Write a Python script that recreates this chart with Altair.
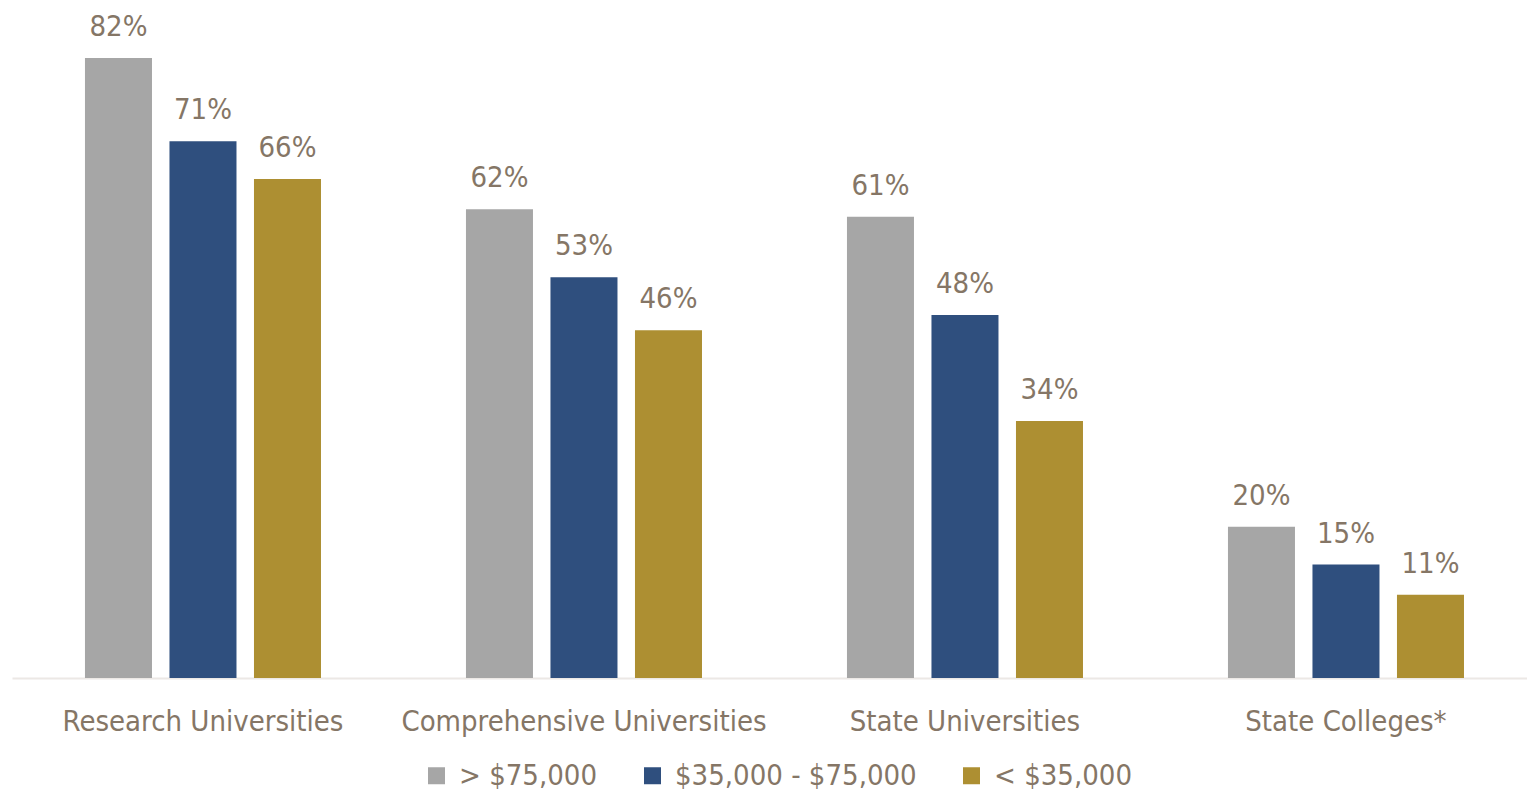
import altair as alt
import pandas as pd

categories = ["Research Universities", "Comprehensive Universities", "State Universities", "State Colleges*"]
incomes = ["> $75,000", "$35,000 - $75,000", "< $35,000"]
high_income = [82, 62, 61, 20]
mid_income = [71, 53, 48, 15]
low_income = [66, 46, 34, 11]
colors = ["#A6A6A6", "#2F4F7E", "#AD8F32"]

rows = []
for series_name, vals in zip(incomes, [high_income, mid_income, low_income]):
    for cat, v in zip(categories, vals):
        rows.append({"category": cat, "income": series_name, "value": v, "label": f"{v}%"})
df = pd.DataFrame(rows)

FONT = "DejaVu Sans Condensed"
TXT = "#857666"
FS = 29

x = alt.X("category:N", sort=categories,
          scale=alt.Scale(paddingInner=0.3346, paddingOuter=0.1555, align=0.542),
          axis=alt.Axis(title=None, labelAngle=0, ticks=False, domainColor="#ECE8E5",
                        domainWidth=2, labelFontSize=FS, labelColor=TXT, labelFont=FONT,
                        labelPadding=29, labelLimit=0, grid=False))
xo = alt.XOffset("income:N", sort=incomes,
                 scale=alt.Scale(paddingInner=0.207, paddingOuter=0.1035))
y = alt.Y("value:Q", scale=alt.Scale(domain=[0, 82], nice=False), axis=None)

bars = alt.Chart(df).mark_bar().encode(
    x=x, xOffset=xo, y=y,
    color=alt.Color("income:N", sort=incomes,
                    scale=alt.Scale(domain=incomes, range=colors),
                    legend=alt.Legend(title=None, orient="none", legendX=410, legendY=703,
                                      direction="horizontal", columns=3,
                                      symbolType="square", symbolSize=289,
                                      symbolStrokeWidth=0, labelFontSize=FS,
                                      labelFont=FONT, labelColor=TXT, labelOffset=8,
                                      labelLimit=0, columnPadding=40)),
)

labels = alt.Chart(df).mark_text(baseline="alphabetic", dy=-22, fontSize=FS,
                                 font=FONT, color=TXT).encode(
    x=x, xOffset=xo, y=y, text="label:N")

chart = (bars + labels).properties(
    width=1515, height=620, background="white",
    autosize=alt.AutoSizeParams(type="none"),
    padding={"left": 4, "top": 50, "right": 0, "bottom": 113},
).configure_view(strokeWidth=0, stroke="transparent")

chart.save("out.html", embed_options={"renderer": "svg", "actions": False})
